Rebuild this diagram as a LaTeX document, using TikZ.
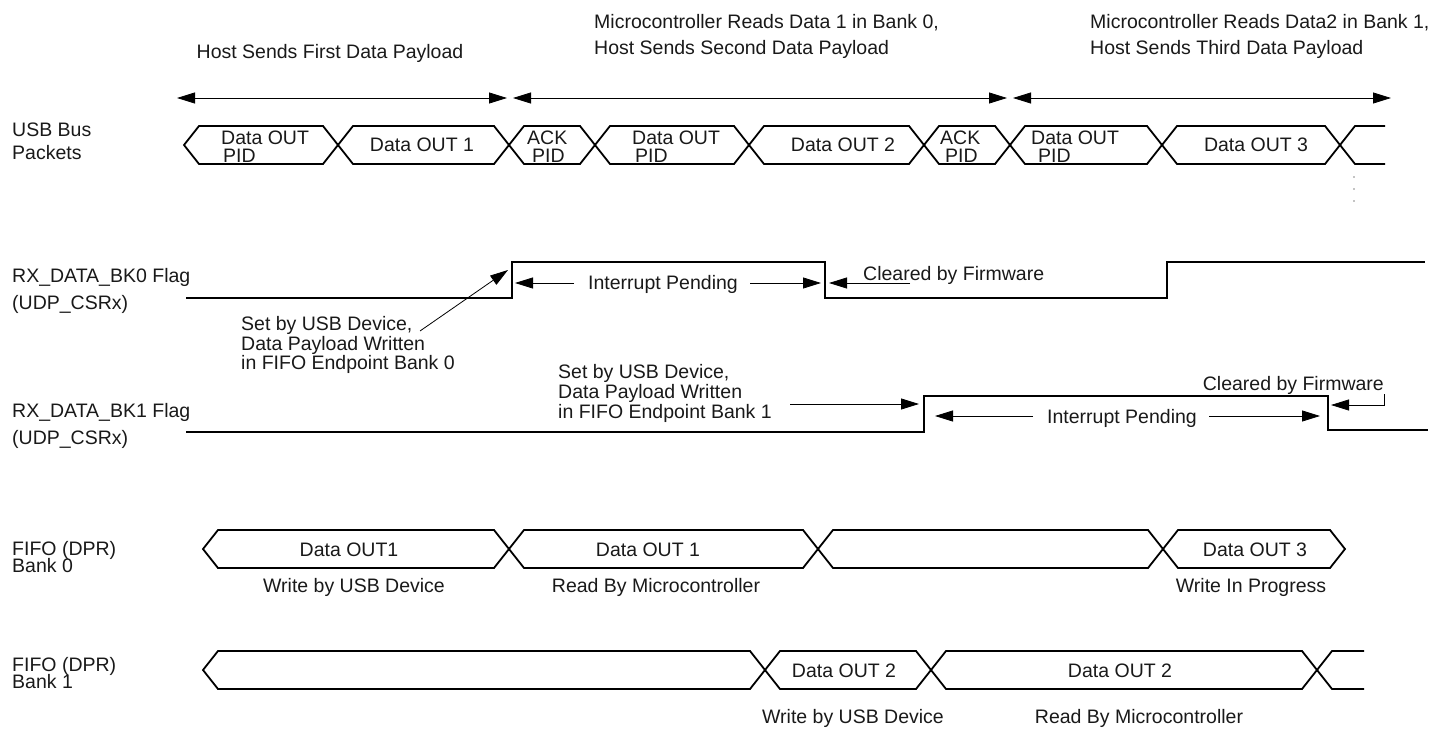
\documentclass[tikz,border=0pt]{standalone}
\usepackage{fontspec}
\setmainfont{Liberation Sans}
\usetikzlibrary{arrows.meta}
\newcommand\pkt[5]{\draw[pk] (#1,#4) -- (#1+15,#3) -- (#2-15,#3) -- (#2,#4) -- (#2-15,#5) -- (#1+15,#5) -- cycle;}
\begin{document}
\begin{tikzpicture}[x=1pt,y=-1pt,
  txt/.style={inner sep=0pt, font=\fontsize{19.5}{22}\selectfont, text=black!90},
  pk/.style={line width=1.8pt, line join=miter},
  sig/.style={line width=1.3pt},
  ar/.style={line width=0.8pt, -{Triangle[length=18pt,width=11pt]}},
  dar/.style={line width=0.8pt, {Triangle[length=18pt,width=11pt]}-{Triangle[length=18pt,width=11pt]}}]
\useasboundingbox (0,0) rectangle (1432,733);

% ---------- top phase annotations ----------
\node[txt, anchor=base] (ph1) at (330,59) {Host Sends First Data Payload};
\node[txt, anchor=base west] (ph2a) at (594,29) {Microcontroller Reads Data 1 in Bank 0,};
\node[txt, anchor=base west] (ph2b) at (594,55) {Host Sends Second Data Payload};
\node[txt, anchor=base west] (ph3a) at (1090,29) {Microcontroller Reads Data2 in Bank 1,};
\node[txt, anchor=base west] (ph3b) at (1090,55) {Host Sends Third Data Payload};
\coordinate (a1l) at (177,98); \coordinate (a1r) at (507,98);
\coordinate (a2l) at (513,98); \coordinate (a2r) at (1007,98);
\coordinate (a3l) at (1013,98); \coordinate (a3r) at (1391,98);
\draw[dar] (a1l) -- (a1r);
\draw[dar] (a2l) -- (a2r);
\draw[dar] (a3l) -- (a3r);

% ---------- left labels ----------
\node[txt, anchor=base west] (l1a) at (12,137) {USB Bus};
\node[txt, anchor=base west] (l1b) at (12,159) {Packets};
\node[txt, anchor=base west] (l2a) at (12,282) {RX\_DATA\_BK0 Flag};
\node[txt, anchor=base west] (l2b) at (12,309) {(UDP\_CSRx)};
\node[txt, anchor=base west] (l3a) at (12,417) {RX\_DATA\_BK1 Flag};
\node[txt, anchor=base west] (l3b) at (12,444) {(UDP\_CSRx)};
\node[txt, anchor=base west] (l4a) at (12,555) {FIFO (DPR)};
\node[txt, anchor=base west] (l4b) at (12,572) {Bank 0};
\node[txt, anchor=base west] (l5a) at (12,671) {FIFO (DPR)};
\node[txt, anchor=base west] (l5b) at (12,688) {Bank 1};

% ---------- USB bus packets ----------
\pkt{184}{338}{126}{145}{164}
\pkt{338}{509}{126}{145}{164}
\pkt{509}{595}{126}{145}{164}
\pkt{595}{749}{126}{145}{164}
\pkt{749}{924}{126}{145}{164}
\pkt{924}{1010}{126}{145}{164}
\pkt{1010}{1162}{126}{145}{164}
\pkt{1162}{1340}{126}{145}{164}
\draw[pk] (1385,126) -- (1355,126) -- (1340,145) -- (1355,164) -- (1385,164);
\node[txt, anchor=base west] (p1a) at (221,145) {Data OUT};
\node[txt, anchor=base west] (p1b) at (223,163) {PID};
\node[txt, anchor=base] (p2) at (422,152) {Data OUT 1};
\node[txt, anchor=base west] (p3a) at (527,145) {ACK};
\node[txt, anchor=base west] (p3b) at (532,163) {PID};
\node[txt, anchor=base west] (p4a) at (632,145) {Data OUT};
\node[txt, anchor=base west] (p4b) at (635,163) {PID};
\node[txt, anchor=base] (p5) at (843,152) {Data OUT 2};
\node[txt, anchor=base west] (p6a) at (940,145) {ACK};
\node[txt, anchor=base west] (p6b) at (945,163) {PID};
\node[txt, anchor=base west] (p7a) at (1031,145) {Data OUT};
\node[txt, anchor=base west] (p7b) at (1038,163) {PID};
\node[txt, anchor=base] (p8) at (1256,152) {Data OUT 3};
\foreach \yy in {177,189,201} \fill (1354,\yy) circle (0.7pt);

% ---------- RX_DATA_BK0 ----------
\draw[sig] (186,298) -- (512,298) -- (512,262) -- (825,262) -- (825,298) -- (1167,298) -- (1167,262) -- (1425,262);
\node[txt, anchor=base west] (s0a) at (241,330) {Set by USB Device,};
\node[txt, anchor=base west] (s0b) at (241,350) {Data Payload Written};
\node[txt, anchor=base west] (s0c) at (241,369) {in FIFO Endpoint Bank 0};
\coordinate (s0t) at (420,331); \coordinate (s0h) at (508,270);
\draw[ar] (s0t) -- (s0h);
\node[txt, anchor=base] (ip0) at (663,289) {Interrupt Pending};
\coordinate (ip0l) at (515,283); \coordinate (ip0r) at (821,283);
\draw[ar] (ip0.west |- ip0l) ++(-14,0) -- (ip0l);
\draw[ar] (ip0.east |- ip0r) ++(12,0) -- (ip0r);
\node[txt, anchor=base west] (cf0) at (863,280) {Cleared by Firmware};
\coordinate (cf0s) at (910,283); \coordinate (cf0h) at (829,283);
\draw[ar] (cf0s) -- (cf0h);

% ---------- RX_DATA_BK1 ----------
\draw[sig] (186,432) -- (924,432) -- (924,396) -- (1328,396) -- (1328,430) -- (1428,430);
\node[txt, anchor=base west] (s1a) at (558,378) {Set by USB Device,};
\node[txt, anchor=base west] (s1b) at (558,398) {Data Payload Written};
\node[txt, anchor=base west] (s1c) at (558,418) {in FIFO Endpoint Bank 1};
\coordinate (s1t) at (790,404); \coordinate (s1h) at (919,404);
\draw[ar] (s1t) -- (s1h);
\node[txt, anchor=base] (ip1) at (1122,423) {Interrupt Pending};
\coordinate (ip1l) at (935,416); \coordinate (ip1r) at (1320,416);
\draw[ar] (ip1.west |- ip1l) ++(-14,0) -- (ip1l);
\draw[ar] (ip1.east |- ip1r) ++(12,0) -- (ip1r);
\node[txt, anchor=base east] (cf1) at (1384,390) {Cleared by Firmware};
\coordinate (cf1s) at (1384,394); \coordinate (cf1h) at (1331,405);
\draw[ar] (cf1s) |- (cf1h);

% ---------- FIFO Bank 0 ----------
\pkt{203}{509}{530}{549}{568}
\pkt{509}{818}{530}{549}{568}
\pkt{818}{1163}{530}{549}{568}
\pkt{1163}{1345}{530}{549}{568}
\node[txt, anchor=base] (b0a) at (349,556) {Data OUT1};
\node[txt, anchor=base] (b0b) at (648,556) {Data OUT 1};
\node[txt, anchor=base] (b0c) at (1255,556) {Data OUT 3};
\node[txt, anchor=base] (b0d) at (354,592) {Write by USB Device};
\node[txt, anchor=base] (b0e) at (656,592) {Read By Microcontroller};
\node[txt, anchor=base] (b0f) at (1251,592) {Write In Progress};

% ---------- FIFO Bank 1 ----------
\pkt{203}{765}{651}{670}{689}
\pkt{765}{931}{651}{670}{689}
\pkt{931}{1317}{651}{670}{689}
\draw[pk] (1364,651) -- (1332,651) -- (1317,670) -- (1332,689) -- (1364,689);
\node[txt, anchor=base] (b1a) at (844,677) {Data OUT 2};
\node[txt, anchor=base] (b1b) at (1120,677) {Data OUT 2};
\node[txt, anchor=base] (b1c) at (853,723) {Write by USB Device};
\node[txt, anchor=base] (b1d) at (1139,723) {Read By Microcontroller};
\end{tikzpicture}
\end{document}
